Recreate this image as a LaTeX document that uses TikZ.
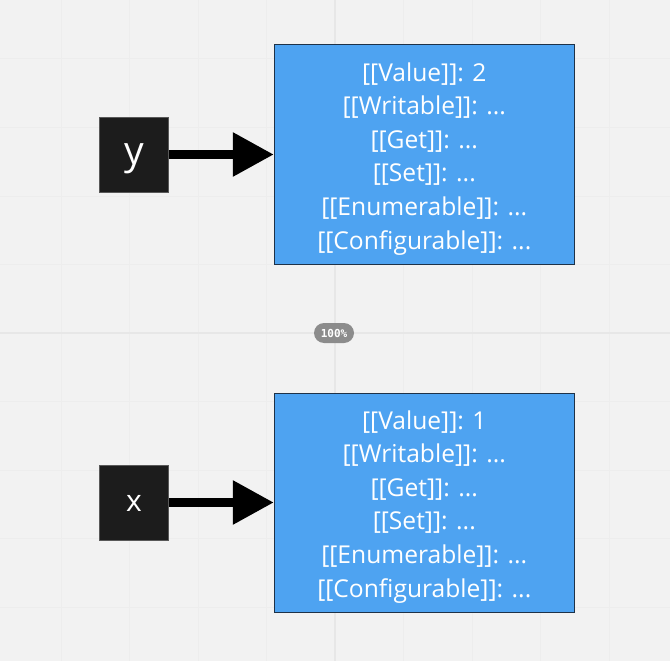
\documentclass[tikz,border=0pt]{standalone}
\usepackage{fontspec}
\setmainfont{Open Sans}
\setmonofont{DejaVu Sans Mono}
\usetikzlibrary{arrows.meta}
\definecolor{canvas}{HTML}{F2F2F2}
\definecolor{gridline}{HTML}{EDEDED}
\definecolor{gridmajor}{HTML}{E7E7E7}
\definecolor{propblue}{HTML}{4EA3F1}
\definecolor{propedge}{HTML}{1E3248}
\definecolor{varblack}{HTML}{1C1C1C}
\definecolor{badge}{HTML}{8C8C8C}
\newcommand{\PropList}[1]{\rule{0pt}{27pt}[[Value]]: #1\\{}[[Writable]]: ...\\{}[[Get]]: ...\\{}%
  [[Set]]: ...\\{}[[Enumerable]]: ...\\{}[[Configurable]]: ...}

\begin{document}
\begin{tikzpicture}[x=1pt,y=-1pt,
  varbox/.style={fill=varblack,draw=black!65,line width=0.8pt,text=white,
    minimum width=69pt,minimum height=75pt,inner sep=0pt,text depth=0pt},
  propbox/.style={fill=propblue,draw=propedge,line width=1pt,text=white,
    minimum width=300pt,minimum height=219pt,inner sep=0pt,align=center,
    font=\fontsize{24.6}{33.6}\selectfont},
  ref/.style={-{Triangle[length=41pt,width=42pt]},line width=9pt}]
\fill[canvas] (0,0) rectangle (670,661);
\useasboundingbox (0,0) rectangle (670,661);
% board grid
\foreach \i in {-4,...,4} {
  \draw[gridline,line width=1pt] (335+68.5*\i,0) -- (335+68.5*\i,661);
  \draw[gridline,line width=1pt] (0,333+68.5*\i) -- (670,333+68.5*\i);
}
\draw[gridmajor,line width=2.5pt] (0,333) -- (670,333);
\draw[gridmajor,line width=1.5pt] (335,0) -- (335,661);

\node[varbox,text height=20pt,font=\fontsize{39}{39}\selectfont]
  (y) at (134,154.5) {y};
\node[propbox] (y-props) at (424.3,154.5) {\PropList{2}};
\node[varbox,text height=17pt,font=\fontsize{30}{30}\selectfont]
  (x) at (134,502.5) {x};
\node[propbox] (x-props) at (424.3,502.5) {\PropList{1}};

\draw[ref] (y) -- (y-props);
\draw[ref] (x) -- (x-props);

\node[fill=badge,rounded corners=10pt,minimum width=40pt,minimum height=20pt,
  inner sep=0pt,text=white,font=\ttfamily\bfseries\fontsize{11}{11}\selectfont]
  (zoom) at (334,333) {100\%};
\end{tikzpicture}
\end{document}
